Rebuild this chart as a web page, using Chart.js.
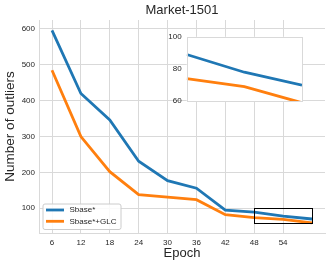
<!DOCTYPE html>
<html><head><meta charset="utf-8">
<script src="https://cdn.jsdelivr.net/npm/chart.js@4"></script>
<style>
html,body{margin:0;padding:0;background:#fff;}
#wrap{position:relative;width:332px;height:267px;}
#main{position:absolute;left:0;top:0;}
#inset{position:absolute;left:160px;top:27px;}
</style></head><body>
<div id="wrap">
<canvas id="main" width="332" height="267"></canvas>
<canvas id="inset" width="146" height="84"></canvas>
</div>
<script>
const epochs = [6, 12, 18, 24, 30, 36, 42, 48, 54, 60];
const sbase = [596, 420, 346, 231, 177, 156, 95, 89, 78, 70];
const sbaseGLC = [485, 300, 202, 138, 131, 124, 82, 74, 69, 59];
const xTicks = [6, 12, 18, 24, 30, 36, 42, 48, 54];
const yTicks = [100, 200, 300, 400, 500, 600];
const insetYTicks = [60, 80, 100];
const zoomX = [48, 60];
const zoomY = [58, 100];
const insetEpochs = [48, 54, 60];
const seriesNames = ['Sbase*', 'Sbase*+GLC'];
const colors = ['#1f77b4', '#ff7f0e'];

const FONT = "'Liberation Sans', Arial, sans-serif";
const TXT = '#262626';
const GRID = '#d9d9d9';

function pts(xs, ys){ return xs.map((x,i)=>({x:x, y:ys[i]})); }

const zoomBoxPlugin = {
  id:'zoomBox',
  afterDatasetsDraw(chart){
    const {ctx, scales:{x,y}} = chart;
    const x0 = x.getPixelForValue(zoomX[0]), x1 = x.getPixelForValue(zoomX[1]);
    const y0 = y.getPixelForValue(zoomY[1]), y1 = y.getPixelForValue(zoomY[0]);
    ctx.save();
    ctx.strokeStyle = '#000'; ctx.lineWidth = 1;
    ctx.strokeRect(Math.round(x0)+0.5, Math.round(y0)+0.5, Math.round(x1-x0), Math.round(y1-y0));
    ctx.restore();
  }
};

const legendPlugin = {
  id:'customLegend',
  afterDraw(chart){
    const {ctx} = chart;
    ctx.save();
    const bx=43, by=204, bw=78, bh=25.5, r=2;
    ctx.beginPath();
    ctx.moveTo(bx+r,by); ctx.lineTo(bx+bw-r,by); ctx.quadraticCurveTo(bx+bw,by,bx+bw,by+r);
    ctx.lineTo(bx+bw,by+bh-r); ctx.quadraticCurveTo(bx+bw,by+bh,bx+bw-r,by+bh);
    ctx.lineTo(bx+r,by+bh); ctx.quadraticCurveTo(bx,by+bh,bx,by+bh-r);
    ctx.lineTo(bx,by+r); ctx.quadraticCurveTo(bx,by,bx+r,by); ctx.closePath();
    ctx.fillStyle='rgba(255,255,255,0.85)'; ctx.fill();
    ctx.strokeStyle='#cccccc'; ctx.lineWidth=1; ctx.stroke();
    ctx.font = '8px ' + FONT; ctx.textBaseline='middle'; ctx.fillStyle=TXT;
    seriesNames.forEach((n,i)=>{
      const yy = 210 + i*11.3;
      ctx.strokeStyle = colors[i]; ctx.lineWidth = 2.8;
      ctx.beginPath(); ctx.moveTo(46, yy); ctx.lineTo(64, yy); ctx.stroke();
      ctx.fillText(n, 69.5, yy);
    });
    ctx.restore();
  }
};

new Chart(document.getElementById('main'), {
  type:'line',
  data:{ datasets: seriesNames.map((n,i)=>({
    label:n, data: pts(epochs, i===0?sbase:sbaseGLC),
    borderColor: colors[i], backgroundColor: colors[i], borderWidth:2.8,
    pointRadius:0, tension:0, fill:false
  }))},
  options:{
    responsive:false, animation:false, devicePixelRatio:1,
    layout:{padding:{left:0,right:7,top:0,bottom:0}},
    plugins:{
      legend:{display:false}, tooltip:{enabled:false},
      title:{display:true, text:'Market-1501', fullSize:false, color:TXT,
        font:{family:FONT, size:13, weight:'normal'}, padding:{top:2.6,bottom:1.8}}
    },
    scales:{
      x:{ type:'linear', min:3.3, max:62.7,
        afterBuildTicks(s){ s.ticks = xTicks.map(v=>({value:v})); },
        afterFit(s){ s.height = 34; },
        ticks:{ color:TXT, font:{family:FONT, size:8}, padding:5, maxRotation:0, autoSkip:false },
        grid:{ color:GRID, drawTicks:false, lineWidth:1 },
        border:{ color:GRID, width:1 },
        title:{ display:true, text:'Epoch', color:TXT, font:{family:FONT, size:13}, padding:{top:0,bottom:6.2} }
      },
      y:{ type:'linear', min:31, max:625,
        afterBuildTicks(s){ s.ticks = yTicks.map(v=>({value:v})); },
        afterFit(s){ s.width = 39; },
        ticks:{ color:TXT, font:{family:FONT, size:8}, padding:4 },
        grid:{ color:GRID, drawTicks:false, lineWidth:1 },
        border:{ color:GRID, width:1 },
        title:{ display:true, text:'Number of outliers', color:TXT, font:{family:FONT, size:13.5}, padding:{top:1.8,bottom:0} }
      }
    }
  },
  plugins:[zoomBoxPlugin, legendPlugin]
});

const insetFrame = {
  id:'insetFrame',
  beforeDraw(chart){
    const {ctx, chartArea:a} = chart;
    ctx.save(); ctx.fillStyle='#fff'; ctx.fillRect(a.left, a.top, a.right-a.left, a.bottom-a.top); ctx.restore();
  },
  afterDraw(chart){
    const {ctx, chartArea:a} = chart;
    ctx.save(); ctx.strokeStyle=GRID; ctx.lineWidth=1;
    ctx.strokeRect(Math.round(a.left)+0.5, Math.round(a.top)+0.5, Math.round(a.right-a.left), Math.round(a.bottom-a.top));
    ctx.restore();
  }
};

const insetIdx = epochs.map((e,i)=>insetEpochs.includes(e)?i:-1).filter(i=>i>=0);
new Chart(document.getElementById('inset'), {
  type:'line',
  data:{ datasets: seriesNames.map((n,i)=>({
    label:n, data: insetIdx.map(k=>({x:epochs[k], y:(i===0?sbase:sbaseGLC)[k]})),
    borderColor: colors[i], borderWidth:2.8, pointRadius:0, tension:0, fill:false
  }))},
  options:{
    responsive:false, animation:false, devicePixelRatio:1,
    layout:{padding:{left:0,right:4,top:6.7,bottom:5}},
    plugins:{legend:{display:false}, tooltip:{enabled:false}},
    scales:{
      x:{ type:'linear', min:zoomX[0], max:zoomX[1], display:false },
      y:{ type:'linear', min:60, max:100,
        afterBuildTicks(s){ s.ticks = insetYTicks.map(v=>({value:v})); },
        afterFit(s){ s.width = 26.7; },
        ticks:{ color:TXT, font:{family:FONT, size:8}, padding:5 },
        grid:{ display:false, drawTicks:false },
        border:{ display:false }
      }
    }
  },
  plugins:[insetFrame]
});
</script>
</body></html>
